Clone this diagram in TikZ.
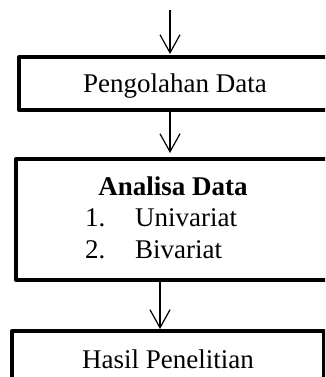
\documentclass[tikz,border=0pt]{standalone}
\usepackage{fontspec}
\setmainfont{Liberation Serif}
\usetikzlibrary{arrows.meta,positioning}

\begin{document}
\begin{tikzpicture}[
  x=1pt,y=-1pt,
  every node/.style={font=\fontsize{27}{32}\selectfont},
  box/.style={draw,line width=4pt,line join=round,minimum width=312pt,inner sep=0pt,text depth=0pt},
  isi/.style={inner sep=0pt,anchor=base west},
  arr/.style={-{Straight Barb[length=18pt,width=20pt]},line width=1.2pt}
]
\useasboundingbox (0,0) rectangle (325,377);
\clip (0,0) rectangle (325,377);
\coordinate (start) at (170,10);
\node[box,minimum height=53pt] (olah) at (175,83.5) {Pengolahan Data};
\node[box,minimum width=314pt,minimum height=121pt] (analisa) at (173,219.5) {};
\node[anchor=base,inner sep=0pt] (judul) at (173,195) {\textbf{Analisa Data}};
\node[isi] (no1) at (85,226) {1.};
\node[isi] (uni) at (135,226) {Univariat};
\node[isi] (no2) at (85,258) {2.};
\node[isi] (biv) at (135,258) {Bivariat};
\node[box,minimum height=56pt] (hasil) at (168,359) {Hasil Penelitian};
\draw[arr,shorten >=1pt] (start) -- (start |- olah.north);
\draw[arr,shorten >=4pt] (olah.south -| start) -- (start |- analisa.north);
\draw[arr] ([xshift=-13pt]analisa.south) -- ([xshift=-8pt]hasil.north);
\end{tikzpicture}
\end{document}
